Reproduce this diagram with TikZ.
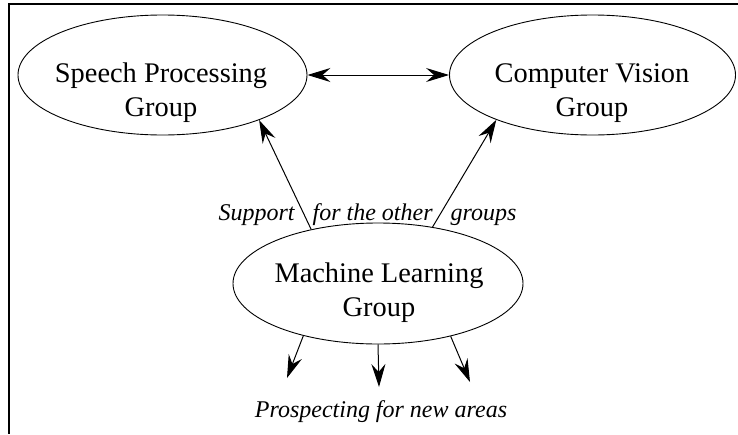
\documentclass[tikz,border=0pt]{standalone}
\usepackage{fontspec}
\setmainfont{Liberation Serif}
\usetikzlibrary{shapes.geometric,arrows.meta}

\begin{document}
\begin{tikzpicture}[x=1pt,y=-1pt,
  >={Stealth[length=23pt,width=14pt,inset=8pt]},
  grp/.style={draw,ellipse,line width=0.9pt,inner sep=0pt},
  grptext/.style={anchor=base,align=center,font=\fontsize{28.4}{34}\selectfont},
  note/.style={anchor=base,font=\fontsize{24}{30}\selectfont\itshape},
  link/.style={line width=1pt,->},
  frame/.style={line width=2pt}]
\useasboundingbox (0,0) rectangle (738,434);

% open frame: top and left edges only
\coordinate (frameTR) at (738,4);
\coordinate (frameTL) at (8.5,4);
\coordinate (frameBL) at (8.5,434);
\draw[frame] (frameTR) -- (frameTL) -- (frameBL);

% the three groups
\node[grp, minimum width=289pt, minimum height=120pt] (sp) at (162.5,75) {};
\node[grp, minimum width=286pt, minimum height=120pt] (cv) at (592.5,75) {};
\node[grp, minimum width=290pt, minimum height=121pt] (ml) at (378,283.5) {};

% group names (anchored on the baseline of the last line)
\node[grptext] (sptext) at (161,116) {Speech Processing\\Group};
\node[grptext] (cvtext) at (592,116) {Computer Vision\\Group};
\node[grptext] (mltext) at (379,316) {Machine Learning\\Group};

% links between groups
\draw[line width=1pt,<->] (sp.east) -- (cv.west);
\draw[link] (ml.141) -- (sp.-25);
\draw[link] (ml.46.8) -- (cv.205.6);

% outward arrows
\coordinate (outL) at (287,378);
\coordinate (outM) at (379,387);
\coordinate (outR) at (470,382);
\draw[link] (ml.215) -- (outL);
\draw[link] (ml.south) -- (outM);
\draw[link] (ml.-36.5) -- (outR);

% labels
\node[note] (support) at (367.5,220) {Support\hspace{18pt}for the other\hspace{18pt}groups};
\node[note] (prospect) at (381,417) {Prospecting for new areas};
\end{tikzpicture}
\end{document}
